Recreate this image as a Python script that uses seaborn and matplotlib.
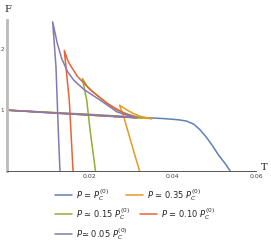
import pandas as pd
import seaborn as sns
import matplotlib.pyplot as plt
from matplotlib.lines import Line2D

# Free energy F vs temperature T, one path per pressure (lower branch -> cusp -> upper branch -> steep branch)
labels = [r"$P$ = $P_C^{(0)}$", r"$P$ ≃ 0.35 $P_C^{(0)}$", r"$P$ ≃ 0.15 $P_C^{(0)}$",
          r"$P$ = 0.10 $P_C^{(0)}$", r"$P$≃ 0.05 $P_C^{(0)}$"]
colors = ["#5E81B5", "#E19C24", "#8FB032", "#EB6235", "#8778B3"]

T_p1 = [0.0, 0.01, 0.02, 0.03, 0.038, 0.0415, 0.0433, 0.045, 0.0465, 0.048, 0.0495, 0.051, 0.0525, 0.0538]
F_p1 = [1.0, 0.965, 0.93, 0.89, 0.86, 0.84, 0.82, 0.77, 0.68, 0.56, 0.42, 0.26, 0.13, 0.0]

T_p035 = [0.0, 0.012, 0.024, 0.035, 0.0335, 0.0321, 0.0305, 0.029, 0.0272, 0.0282, 0.0298, 0.031, 0.032]
F_p035 = [1.0, 0.955, 0.905, 0.86, 0.875, 0.90, 0.945, 1.0, 1.08, 0.89, 0.51, 0.23, 0.0]

T_p015 = [0.0, 0.012, 0.024, 0.0325, 0.0295, 0.0266, 0.0245, 0.0226, 0.0208, 0.0194, 0.01825, 0.0193, 0.0201, 0.0214]
F_p015 = [1.0, 0.952, 0.905, 0.87, 0.925, 1.0, 1.10, 1.20, 1.30, 1.39, 1.52, 1.16, 0.67, 0.0]

T_p010 = [0.0, 0.012, 0.024, 0.0315, 0.0282, 0.0242, 0.0202, 0.0171, 0.0155, 0.0147, 0.0139, 0.0151, 0.01548, 0.016]
F_p010 = [1.0, 0.95, 0.903, 0.875, 0.95, 1.11, 1.33, 1.55, 1.72, 1.82, 1.98, 1.16, 0.67, 0.0]

T_p005 = [0.0, 0.012, 0.024, 0.031, 0.0266, 0.0226, 0.0186, 0.0162, 0.0147, 0.0133, 0.0122, 0.0111, 0.0119, 0.01245, 0.01286]
F_p005 = [1.0, 0.95, 0.902, 0.875, 0.97, 1.16, 1.34, 1.49, 1.63, 1.84, 2.10, 2.45, 1.71, 0.67, 0.0]

curves = [(T_p1, F_p1), (T_p035, F_p035), (T_p015, F_p015), (T_p010, F_p010), (T_p005, F_p005)]

frames = []
for lab, (t, f) in zip(labels, curves):
    frames.append(pd.DataFrame({"T": t, "F": f, "label": lab}))
df = pd.concat(frames, ignore_index=True)

sns.set_style("white")
fig = plt.figure(figsize=(2.71, 2.47), dpi=100)
ax = fig.add_axes([6.5 / 271, 76 / 247, 249.5 / 271, 151 / 247])

sns.lineplot(data=df, x="T", y="F", hue="label", palette=colors, sort=False,
             estimator=None, linewidth=1.1, ax=ax, legend=False)

ax.set_xlim(0, 0.06)
ax.set_ylim(0, 2.48)
ax.set_xticks([0.02, 0.04, 0.06])
ax.set_xticklabels(["0.02", "0.04", "0.06"])
ax.set_yticks([1, 2])
ax.set_yticklabels(["1", "2"])
ax.tick_params(axis="x", direction="in", length=2.5, width=0.6, labelsize=4.5,
               colors="#444444", pad=2)
ax.tick_params(axis="y", direction="out", length=1.5, width=0.6, labelsize=4,
               colors="#444444", pad=0.2)
ax.set_xlabel("")
ax.set_ylabel("")
for s in ["top", "right"]:
    ax.spines[s].set_visible(False)
ax.spines["left"].set_color("#BBBBBB")
ax.spines["left"].set_linewidth(2)
ax.spines["bottom"].set_color("#555555")
ax.spines["bottom"].set_linewidth(0.7)

fig.text(8 / 271, 1 - 10 / 247, "F", family="DejaVu Serif", fontsize=7, ha="center", va="center")
fig.text(264 / 271, 1 - 167 / 247, "T", family="DejaVu Serif", fontsize=7, ha="center", va="center")

handles = [Line2D([], [], color=c, lw=1.1) for c in colors]
rows = [([0, 1], 55, 195, 2.05), ([2, 3], 55, 214, 1.2), ([4], 55, 234, 1.2)]
for idx, x0, y0, cs in rows:
    fig.legend([handles[i] for i in idx], [labels[i] for i in idx],
               loc="center left", bbox_to_anchor=(x0 / 271, 1 - y0 / 247),
               ncol=len(idx), frameon=False, fontsize=6, handlelength=2.0,
               handletextpad=0.5, columnspacing=cs, borderpad=0, borderaxespad=0)

fig.savefig("out.png", dpi=100)
